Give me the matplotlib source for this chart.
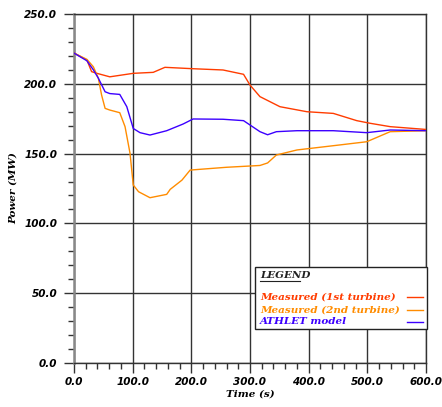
import numpy as np
import matplotlib.pyplot as plt
from matplotlib.ticker import MultipleLocator, FormatStrFormatter
from matplotlib.patches import Rectangle
from matplotlib.lines import Line2D

# Measured power, 1st turbine
t_1st = [0, 22, 30, 39, 61, 101, 135, 155, 203, 254, 289, 300, 317, 351, 397, 442, 482, 505, 539, 600]
p_1st = [222, 217, 208.7, 207.5, 205, 207.5, 208.2, 211.8, 210.8, 209.9, 206.8, 199.1, 190.8, 183.6, 180, 178.8, 173.6, 171.7, 169.3, 167.3]

# Measured power, 2nd turbine
t_2nd = [0, 22, 33, 41.5, 47, 53, 61, 78, 87, 95.5, 101, 110, 129.5, 158, 164, 184, 198, 260, 317, 330, 345, 380, 453, 499, 539, 600]
p_2nd = [222, 217.5, 212.2, 204, 192, 182.4, 181.2, 179.3, 169.3, 150.2, 127.5, 122.7, 118.4, 120.8, 124.4, 131, 138.2, 140.2, 141.5, 143.3, 149, 152.6, 156.2, 158.5, 165.7, 166.4]

# ATHLET model
t_ath = [0, 22, 33, 41.5, 53, 61, 78, 90, 101, 112.5, 129.5, 158, 186, 203, 254, 289, 306, 317, 330, 345, 380, 442, 499, 539, 600]
p_ath = [222, 216.5, 210, 204, 194.3, 193, 192.4, 183.6, 168, 165, 163.3, 166.4, 171.2, 174.8, 174.6, 173.6, 168.8, 165.7, 163.5, 165.7, 166.4, 166.4, 165, 166.9, 166.4]

labels = ['Measured (1st turbine)', 'Measured (2nd turbine)', 'ATHLET model']
colors = ['#ff3c00', '#ff8c00', '#3c00ff']

tickfont = dict(family='DejaVu Sans', style='oblique', weight='bold', size=7.5)
labfont = dict(family='DejaVu Serif', style='italic', weight='bold', size=7.5)

fig = plt.figure(figsize=(4.42, 4.07), dpi=100)
ax = fig.add_axes([74/442, 1-363/407, 352/442, 349/407])

for t, p, c in zip([t_1st, t_2nd, t_ath], [p_1st, p_2nd, p_ath], colors):
    ax.plot(t, p, color=c, lw=1.0, zorder=3)

ax.set_xlim(0, 600)
ax.set_ylim(0, 250)
ax.xaxis.set_major_locator(MultipleLocator(100))
ax.xaxis.set_minor_locator(MultipleLocator(20))
ax.yaxis.set_major_locator(MultipleLocator(50))
ax.yaxis.set_minor_locator(MultipleLocator(10))
ax.xaxis.set_major_formatter(FormatStrFormatter('%.1f'))
ax.yaxis.set_major_formatter(FormatStrFormatter('%.1f'))
ax.grid(True, which='major', color='#333333', lw=1.0, zorder=1)
ax.tick_params(which='major', direction='out', length=7, width=1, color='#333333', pad=3)
ax.tick_params(which='minor', direction='out', length=4, width=1, color='#333333')
ax.tick_params(axis='y', which='major', pad=5)
for lab in ax.get_xticklabels() + ax.get_yticklabels():
    lab.set(**tickfont)
for s in ax.spines.values():
    s.set_color('#333333')
    s.set_linewidth(1.0)
ax.spines['left'].set_color('#888888')
ax.spines['left'].set_linewidth(1.8)

ax.set_xlabel('Time (s)', labelpad=2, **labfont)
ax.set_ylabel('Power (MW)', labelpad=5, **labfont)

# legend box drawn by hand
bx0, bx1, by0, by1 = 0.514, 1.003, 0.097, 0.275
ax.add_patch(Rectangle((bx0, by0), bx1 - bx0, by1 - by0, transform=ax.transAxes,
                       facecolor='white', edgecolor='#222222', lw=1.0, zorder=5, clip_on=False))
tx = bx0 + 0.015
ax.text(tx, 0.252, 'LEGEND', transform=ax.transAxes, va='center', ha='left',
        color='#222222', zorder=6, **labfont)
ax.add_line(Line2D([tx, tx + 0.112], [0.234, 0.234], transform=ax.transAxes,
                   color='#222222', lw=0.8, zorder=6))
for i, (lab, c) in enumerate(zip(labels, colors)):
    yy = 0.188 - i * 0.035
    ax.text(tx, yy, lab, transform=ax.transAxes, va='center', ha='left',
            color=c, zorder=6, **labfont)
    ax.add_line(Line2D([0.947, 0.992], [yy, yy], transform=ax.transAxes,
                       color=c, lw=1.0, zorder=6))

fig.savefig('out.png', dpi=100)
